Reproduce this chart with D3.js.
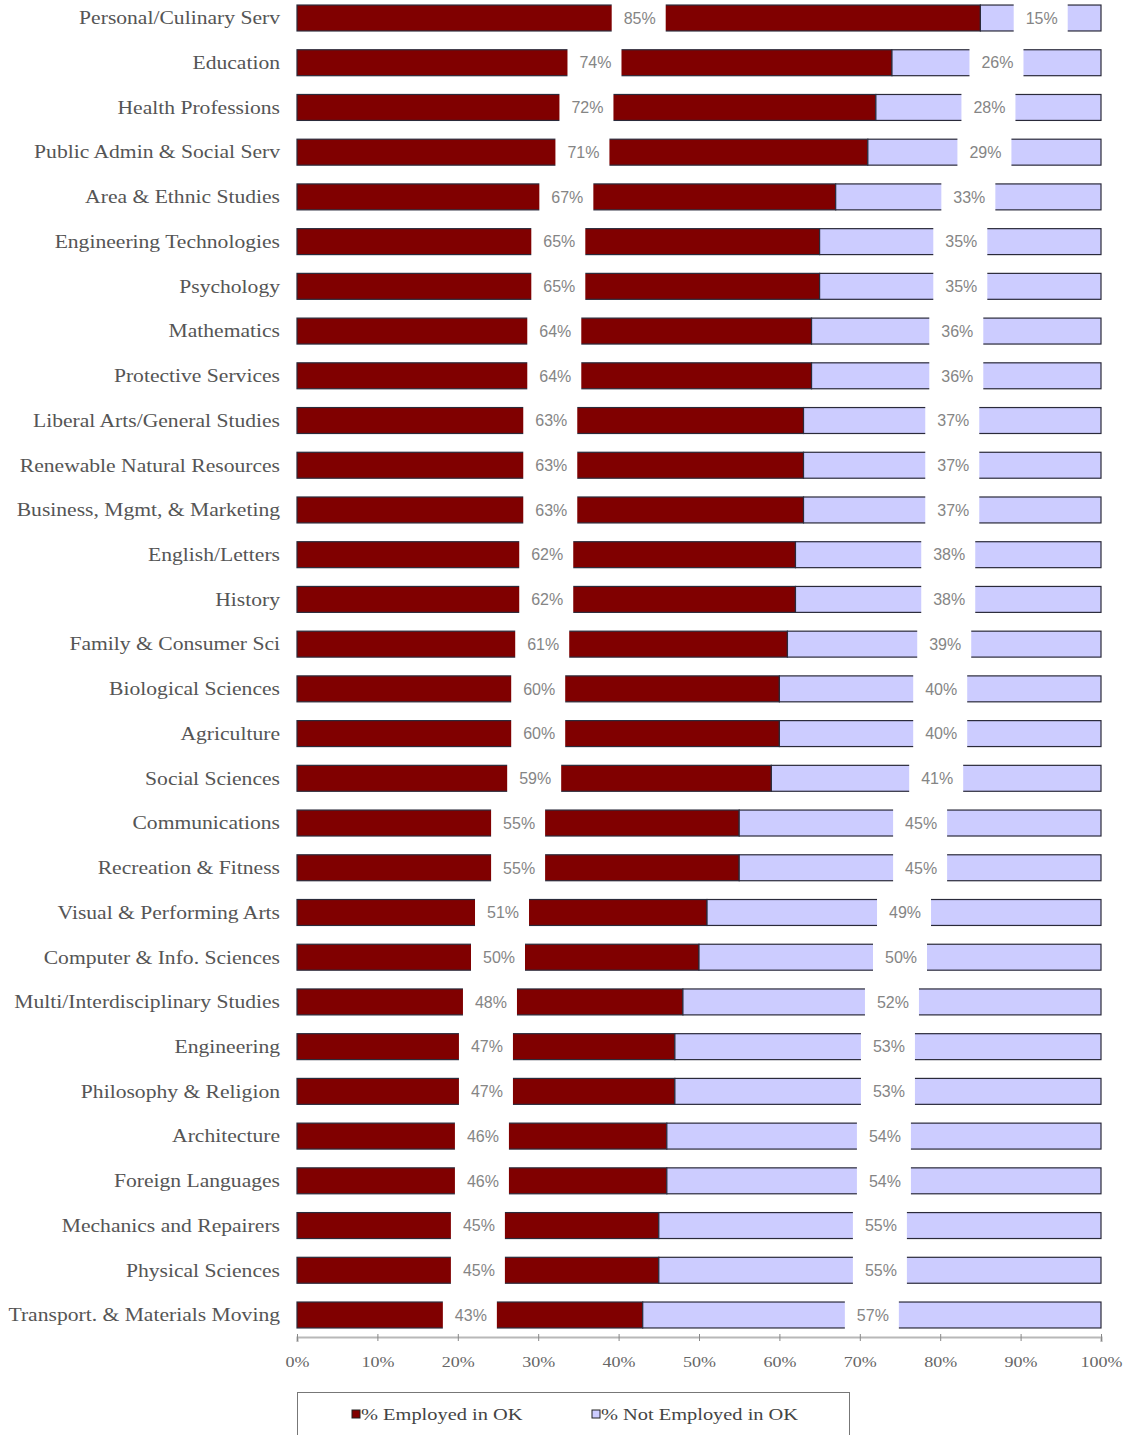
<!DOCTYPE html>
<html>
<head>
<meta charset="utf-8">
<script src="https://cdn.jsdelivr.net/npm/d3@7"></script>
<style>
  html, body { margin: 0; padding: 0; background: #fff; }
  svg { display: block; }
</style>
</head>
<body>
<svg id="chart" width="1128" height="1435"></svg>
<script>
const categories = [
  "Personal/Culinary Serv", "Education", "Health Professions", "Public Admin & Social Serv",
  "Area & Ethnic Studies", "Engineering Technologies", "Psychology", "Mathematics",
  "Protective Services", "Liberal Arts/General Studies", "Renewable Natural Resources",
  "Business, Mgmt, & Marketing", "English/Letters", "History", "Family & Consumer Sci",
  "Biological Sciences", "Agriculture", "Social Sciences", "Communications",
  "Recreation & Fitness", "Visual & Performing Arts", "Computer & Info. Sciences",
  "Multi/Interdisciplinary Studies", "Engineering", "Philosophy & Religion", "Architecture",
  "Foreign Languages", "Mechanics and Repairers", "Physical Sciences", "Transport. & Materials Moving"
];
const employed = [85, 74, 72, 71, 67, 65, 65, 64, 64, 63, 63, 63, 62, 62, 61, 60, 60, 59, 55, 55, 51, 50, 48, 47, 47, 46, 46, 45, 45, 43];
const notEmployed = [15, 26, 28, 29, 33, 35, 35, 36, 36, 37, 37, 37, 38, 38, 39, 40, 40, 41, 45, 45, 49, 50, 52, 53, 53, 54, 54, 55, 55, 57];
const seriesNames = ["% Employed in OK", "% Not Employed in OK"];
const xTicks = [0, 10, 20, 30, 40, 50, 60, 70, 80, 90, 100];

const colors = ["#800000", "#ccccff"];
const serif = "Liberation Serif, Times New Roman, serif";
const stretch = 1.2;
const svg = d3.select("#chart");

const x = d3.scaleLinear().domain([0, 100]).range([297, 1101]);
const y = d3.scaleBand().domain(categories).range([-4.36, 1337.36]).paddingInner(0.42).paddingOuter(0.21);

const rows = categories.map((c, i) => ({cat: c, vals: [employed[i], notEmployed[i]]}));

// bars
rows.forEach(r => {
  let acc = 0;
  r.vals.forEach((v, k) => {
    svg.append("rect")
      .attr("x", x(acc)).attr("y", y(r.cat))
      .attr("width", x(acc + v) - x(acc)).attr("height", y.bandwidth())
      .attr("fill", colors[k]).attr("stroke", "#2a2a3a").attr("stroke-width", 1.2);
    acc += v;
  });
});

// data labels with white boxes
rows.forEach(r => {
  let acc = 0;
  r.vals.forEach((v, k) => {
    const cx = (x(acc) + x(acc + v)) / 2;
    const cy = y(r.cat) + y.bandwidth() / 2;
    svg.append("rect")
      .attr("x", cx - 27).attr("y", cy - 16).attr("width", 54).attr("height", 32)
      .attr("fill", "#fff");
    svg.append("text")
      .attr("x", cx + 1).attr("y", cy).attr("dy", "0.36em")
      .attr("text-anchor", "middle")
      .attr("font-family", "Liberation Sans, Arial, sans-serif")
      .attr("font-size", 16).attr("fill", "#858585")
      .text(v + "%");
    acc += v;
  });
});

// category labels (horizontally stretched serif, as in the reference)
svg.append("g").selectAll("text").data(categories).join("text")
  .attr("transform", d => `translate(280,${y(d) + y.bandwidth() / 2}) scale(${stretch},1)`)
  .attr("dy", "0.35em")
  .attr("text-anchor", "end")
  .attr("font-family", serif)
  .attr("font-size", 18).attr("fill", "#555")
  .text(d => d);

// x axis
const axis = svg.append("g").attr("transform", "translate(0,1337)")
  .call(d3.axisBottom(x).tickValues(xTicks).tickFormat(d => d + "%").tickSize(5).tickPadding(14));
axis.select(".domain").attr("stroke", "#b8b8b8").attr("stroke-width", 2.2);
axis.selectAll(".tick line").attr("stroke", "#888").attr("y1", -3).attr("y2", 4);
axis.selectAll(".tick text")
  .attr("font-family", serif)
  .attr("font-size", 15).attr("fill", "#666")
  .attr("transform", function() {
    const t = d3.select(this);
    return `translate(0,${t.attr("y")}) scale(${stretch},1) translate(0,${-t.attr("y")})`;
  });

// legend
const lg = svg.append("g");
lg.append("rect").attr("x", 297.5).attr("y", 1392.5).attr("width", 552).attr("height", 50)
  .attr("fill", "#fff").attr("stroke", "#777").attr("stroke-width", 1);
const legendX = [352, 592];
seriesNames.forEach((s, k) => {
  lg.append("rect").attr("x", legendX[k]).attr("y", 1410).attr("width", 8).attr("height", 8)
    .attr("fill", colors[k]).attr("stroke", "#222").attr("stroke-width", 1);
  lg.append("text")
    .attr("transform", `translate(${legendX[k] + 9},1414) scale(${stretch},1)`)
    .attr("dy", "0.35em")
    .attr("font-family", serif)
    .attr("font-size", 17).attr("fill", "#444").text(s);
});
</script>
</body>
</html>
